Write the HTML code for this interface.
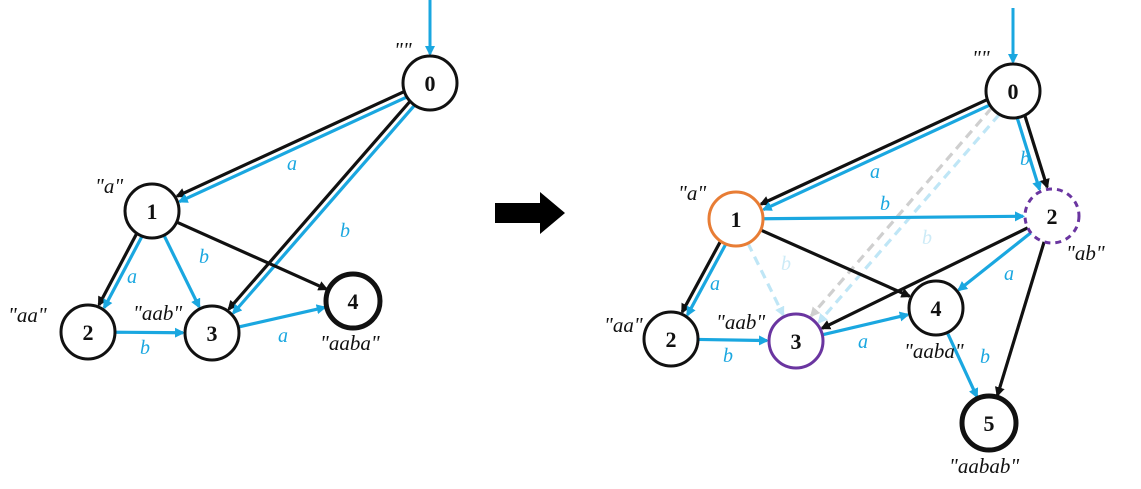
<!DOCTYPE html>
<html><head><meta charset="utf-8"><style>
html,body{margin:0;padding:0;background:#fff;}
svg{display:block;}
text{font-family:"Liberation Serif",serif;}
.lbl{font-style:italic;font-size:21px;fill:#111;}
.el{font-style:italic;font-size:20px;fill:#1aa7e0;}
.num{font-size:22px;font-weight:bold;fill:#111;}
</style></head><body>
<svg id="g" width="1141" height="489" viewBox="0 0 1141 489" xmlns="http://www.w3.org/2000/svg">
<defs>
<marker id="mb" markerWidth="10" markerHeight="10" refX="8" refY="5" orient="auto" markerUnits="userSpaceOnUse"><path d="M0,0 L10,5 L0,10 z" fill="#111"/></marker>
<marker id="mc" markerWidth="10" markerHeight="10" refX="8" refY="5" orient="auto" markerUnits="userSpaceOnUse"><path d="M0,0 L10,5 L0,10 z" fill="#1aa7e0"/></marker>
<marker id="ml" markerWidth="10" markerHeight="10" refX="8" refY="5" orient="auto" markerUnits="userSpaceOnUse"><path d="M0,0 L10,5 L0,10 z" fill="#bfe6f6"/></marker>
<marker id="mg" markerWidth="10" markerHeight="10" refX="8" refY="5" orient="auto" markerUnits="userSpaceOnUse"><path d="M0,0 L10,5 L0,10 z" fill="#cfcfcf"/></marker>
</defs>
<g id="edges"></g>
<g id="nodes"></g>
<g id="texts"></g>
<path d="M495,203 L540,203 L540,192 L565,213 L540,234 L540,223 L495,223 z" fill="#000"/>
</svg>
<script>
const R=27;
const nodeIds=["L0","L1","L2","L3","L4","R0","R1","R2","R3","R4","R5","R2s"];
const nodeNums=["0","1","2","3","4","0","1","2","3","4","5","2"];
const nodeX=[430,152,88,212,353,1013,736,1052,796,936,989,671];
const nodeY=[83,211,332,333,301,91,219,216,341,308,423,339];
const nodeStroke=["#111","#111","#111","#111","#111","#111","#e87d35","#6a35a0","#6a35a0","#111","#111","#111"];
const nodeWidth=[3,3,3,3,5,3,3,3,3,3,5,3];
const nodeDash=["","","","","","","","6,5","","","",""];
const edgeFrom=["L0","L0","L0","L0","L1","L1","L1","L1","L2","L3","R0","R0","R0","R0","R0","R0","R1","R1","R1","R1","R1","R2s","R3","R2","R2","R2","R4"];
const edgeTo=  ["L1","L1","L3","L3","L2","L2","L3","L4","L3","L4","R1","R1","R2","R2","R3","R3","R2","R4","R3","R2s","R2s","R3","R4","R3","R4","R5","R5"];
const edgeType=["k","c","k","c","k","c","c","k","c","c","k","c","c","k","g","l","c","k","l","k","c","c","c","k","c","k","c"];
const edgeOff= [3,-3,3,-3,3,-3,0,0,0,0,3,-3,4,-4,5,-5,0,0,0,3,-3,0,0,0,0,0,0];
const NS="http://www.w3.org/2000/svg";
function pos(id){const i=nodeIds.indexOf(id);return [nodeX[i],nodeY[i]];}
const eg=document.getElementById('edges');
const col={k:"#111",c:"#1aa7e0",l:"#bfe6f6",g:"#cfcfcf"};
const mk={k:"mb",c:"mc",l:"ml",g:"mg"};
for(let i=0;i<edgeFrom.length;i++){
  const [x1,y1]=pos(edgeFrom[i]),[x2,y2]=pos(edgeTo[i]);
  const dx=x2-x1,dy=y2-y1,L=Math.hypot(dx,dy),ux=dx/L,uy=dy/L,nx=-uy,ny=ux,o=edgeOff[i];
  const l=document.createElementNS(NS,'line');
  
  
  l.setAttribute('x1',x1+ux*R+nx*o);l.setAttribute('y1',y1+uy*R+ny*o);
  l.setAttribute('x2',x2-ux*(R+2)+nx*o);l.setAttribute('y2',y2-uy*(R+2)+ny*o);
  l.setAttribute('stroke',col[edgeType[i]]);l.setAttribute('stroke-width',3.2);
  if(edgeType[i]=='l'||edgeType[i]=='g')l.setAttribute('stroke-dasharray','9,6');
  l.setAttribute('marker-end','url(#'+mk[edgeType[i]]+')');
  eg.appendChild(l);
}
[[430,0,430,54],[1013,8,1013,62]].forEach(a=>{
  const l=document.createElementNS(NS,'line');
  
  
  l.setAttribute('x1',a[0]);l.setAttribute('y1',a[1]);l.setAttribute('x2',a[2]);l.setAttribute('y2',a[3]);
  l.setAttribute('stroke','#1aa7e0');l.setAttribute('stroke-width',3);l.setAttribute('marker-end','url(#mc)');
  eg.appendChild(l);
});
const ng=document.getElementById('nodes');
for(let i=0;i<nodeIds.length;i++){
  const c=document.createElementNS(NS,'circle');
  
  
  c.setAttribute('cx',nodeX[i]);c.setAttribute('cy',nodeY[i]);c.setAttribute('r',R);
  c.setAttribute('fill','#fff');c.setAttribute('stroke',nodeStroke[i]);c.setAttribute('stroke-width',nodeWidth[i]);
  if(nodeDash[i])c.setAttribute('stroke-dasharray',nodeDash[i]);
  ng.appendChild(c);
  const t=document.createElementNS(NS,'text');
  
  
  t.setAttribute('class','num');t.setAttribute('x',nodeX[i]);t.setAttribute('y',nodeY[i]+8);t.setAttribute('text-anchor','middle');
  t.textContent=nodeNums[i];ng.appendChild(t);
}
const tg=document.getElementById('texts');
const lbls=[["lbl",394,57,'""'],["lbl",95,193,'"a"'],["lbl",8,322,'"aa"'],["lbl",133,320,'"aab"'],["lbl",320,350,'"aaba"'],
["el",287,170,'a'],["el",340,237,'b'],["el",127,283,'a'],["el",199,263,'b'],["el",140,354,'b'],["el",278,342,'a'],
["lbl",972,65,'""'],["lbl",678,200,'"a"'],["lbl",1066,260,'"ab"'],["lbl",604,332,'"aa"'],["lbl",716,329,'"aab"'],["lbl",904,358,'"aaba"'],["lbl",949,473,'"aabab"'],
["el",870,178,'a'],["el",1020,165,'b'],["el",880,210,'b'],["el",922,244,'b'],["el",781,270,'b'],["el",1004,280,'a'],["el",710,290,'a'],["el",723,362,'b'],["el",858,348,'a'],["el",980,363,'b']];
lbls.forEach(a=>{const t=document.createElementNS(NS,'text');
  
  
  t.setAttribute('class',a[0]);t.setAttribute('x',a[1]);t.setAttribute('y',a[2]);
  if(a[3]=='b'&&(a[1]==922||a[1]==781))t.setAttribute('style','fill:#cdebf7');
  t.textContent=a[3];tg.appendChild(t);});
</script>
</body></html>
